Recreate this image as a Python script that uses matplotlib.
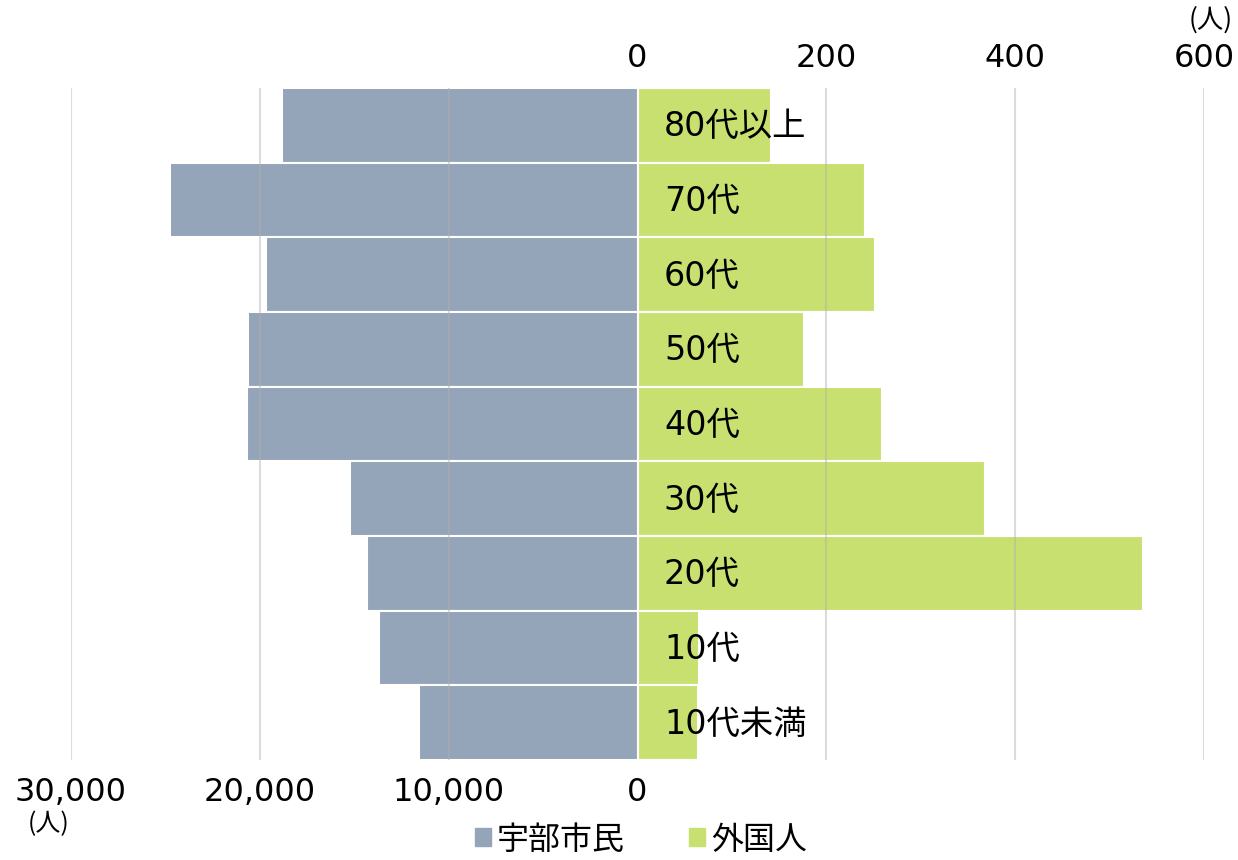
import matplotlib
matplotlib.use("Agg")
import matplotlib.pyplot as plt
from matplotlib.patches import Patch

# DejaVu for the (wide) digits, Noto CJK for the kanji
plt.rcParams['font.family'] = ['DejaVu Sans', 'Noto Sans CJK JP']

ages = ["80代以上", "70代", "60代", "50代", "40代", "30代", "20代", "10代", "10代未満"]
citizens = [18800, 24750, 19650, 20650, 20700, 15250, 14350, 13700, 11550]
foreigners = [141, 241, 252, 176, 259, 368, 535, 65, 64]

left_ticks = [30000, 20000, 10000, 0]
right_ticks = [0, 200, 400, 600]

c_gray = "#94a4b9"
c_green = "#c8e070"

fig = plt.figure(figsize=(12.38, 8.6), dpi=100)
ax = fig.add_axes([71/1238, 100/860, 1133/1238, 672/860])
ax2 = ax.twiny()

y = list(range(len(ages)))
ax.barh(y, citizens, height=1.0, color=c_gray, edgecolor="white", linewidth=1.5, zorder=2)
ax2.barh(y, foreigners, height=1.0, color=c_green, edgecolor="white", linewidth=1.5, zorder=2)

ax.set_xlim(30000, -30000)
ax2.set_xlim(-600, 600)
ax.set_ylim(len(ages) - 0.5, -0.5)
ax2.set_ylim(len(ages) - 0.5, -0.5)

ax.set_xticks(left_ticks)
ax.set_xticklabels(["{:,}".format(t) for t in left_ticks], fontsize=23)
ax2.set_xticks(right_ticks)
ax2.set_xticklabels([str(t) for t in right_ticks], fontsize=23)
ax.tick_params(axis="x", length=0, pad=12)
ax2.tick_params(axis="x", length=0, pad=10)
ax.set_yticks([])
ax2.set_yticks([])
for a in (ax, ax2):
    for s in a.spines.values():
        s.set_visible(False)

# gridlines drawn over the bars, faint
for t in right_ticks[1:]:
    ax2.axvline(t, color="#b0b0b0", alpha=0.45, lw=1.5, zorder=5)
for t in left_ticks[:-1]:
    ax.axvline(t, color="#b0b0b0", alpha=0.45, lw=1.5, zorder=5)

for i, lab in enumerate(ages):
    ax2.text(28, i + 0.02, lab, fontsize=24, va="center", ha="left", zorder=6)

fig.text(1211/1238, 1 - 20/860, "(人)", fontsize=19, ha="center", va="center",
         family="Noto Sans CJK JP")
fig.text(49/1238, 1 - 824/860, "(人)", fontsize=18, ha="center", va="center",
         family="Noto Sans CJK JP")

handles = [Patch(color=c_gray, label="宇部市民"), Patch(color=c_green, label="外国人")]
fig.legend(handles=handles, loc="center", bbox_to_anchor=(641/1238, 1 - 840/860), ncol=2,
           frameon=False, fontsize=23, handlelength=0.5, handleheight=0.5,
           handletextpad=0.2, columnspacing=2.0)

fig.savefig("out.png", dpi=100)
